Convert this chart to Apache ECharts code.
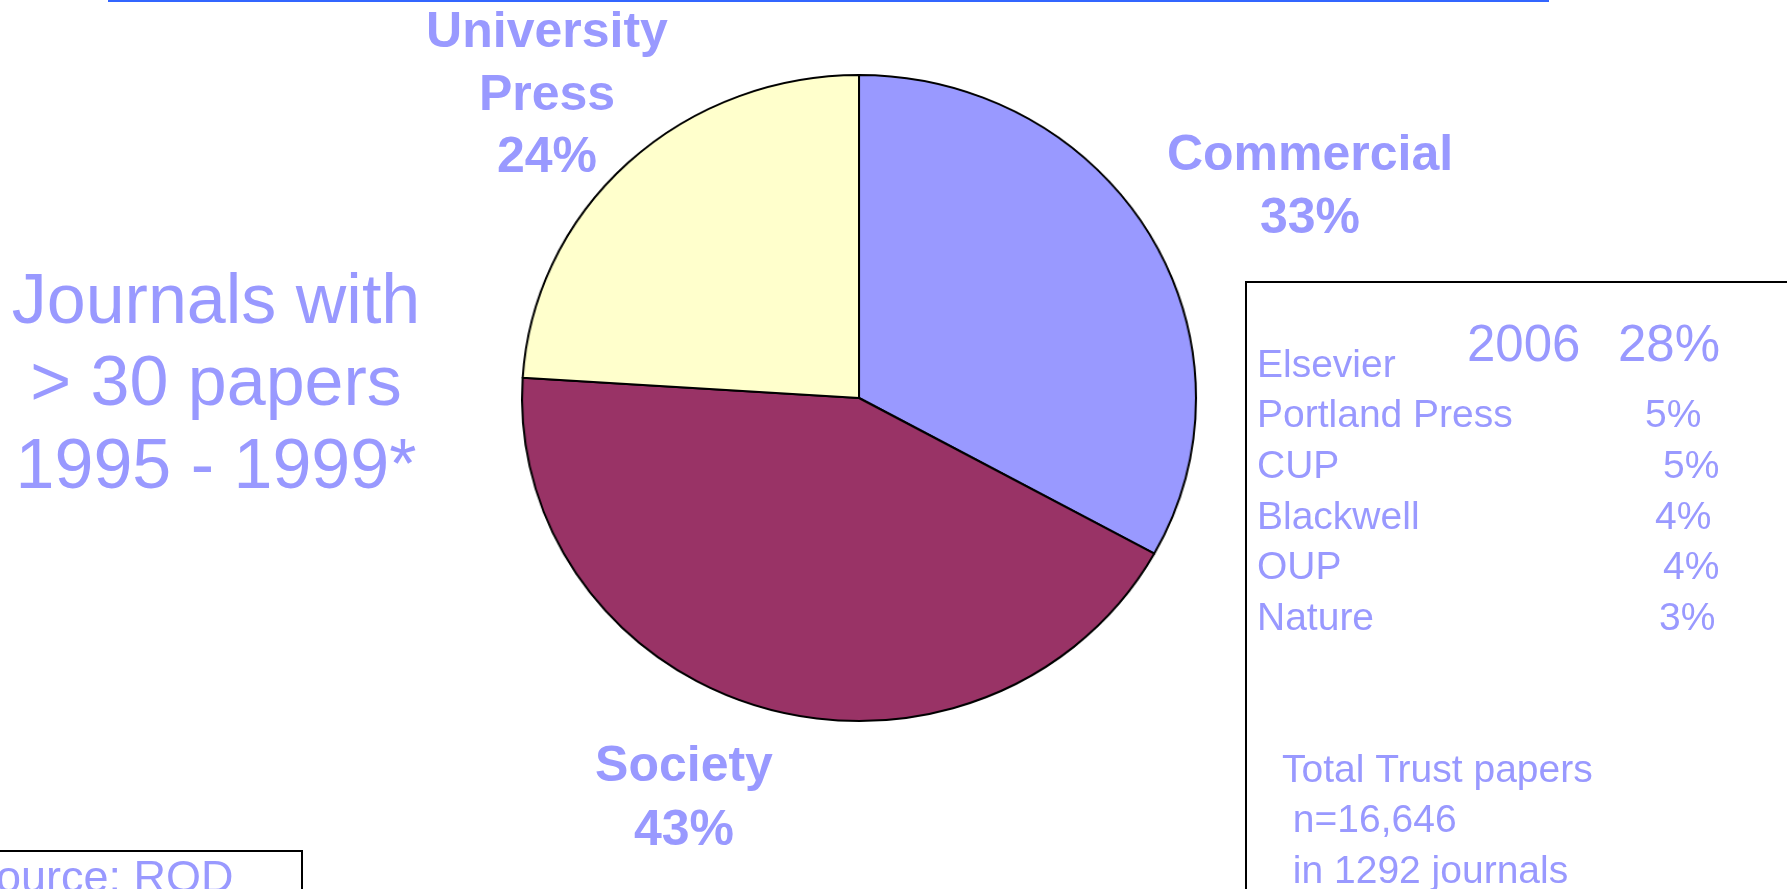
<!DOCTYPE html>
<html>
<head>
<meta charset="utf-8">
<script src="https://cdn.jsdelivr.net/npm/echarts@6/dist/echarts.min.js"></script>
<style>
  html, body { margin: 0; padding: 0; background: #ffffff; overflow: hidden; }
  #wrap { position: relative; width: 1787px; height: 889px; }
  #pie { position: absolute; left: 0; top: 0; width: 1787px; height: 889px;
         transform: scaleX(1.0433); transform-origin: 859px 398px; }
  #over { position: absolute; left: 0; top: 0; width: 1787px; height: 889px; pointer-events: none; }
</style>
</head>
<body>
<div id="wrap">
  <div id="pie"></div>
  <div id="over"></div>
</div>
<script>
// ---- data ----
var categories = ['Commercial', 'Society', 'University Press'];
var categoryLabels = ['Commercial', 'Society', 'University\nPress'];
var shares = [33, 43, 24];
var sliceColors = ['#9999FF', '#993366', '#FFFFCC'];

var titleLines = ['Journals with', '> 30 papers', '1995 - 1999*'];

var publishers = ['Elsevier', 'Portland Press', 'CUP', 'Blackwell', 'OUP', 'Nature'];
var publisherShares = ['28%', '5%', '5%', '4%', '4%', '3%'];
var yearLabel = '2006';

var totalLines = ['Total Trust papers', ' n=16,646', ' in 1292 journals'];
var sourceText = 'Source: ROD';

// ---- layout / style ----
var TXT = '#9999FF';
var FONT = "'Liberation Sans', Arial, sans-serif";

// pie (drawn in its own layer, stretched slightly horizontally like the original ellipse)
var pieChart = echarts.init(document.getElementById('pie'), null, { renderer: 'canvas' });
pieChart.setOption({
  animation: false,
  series: [{
    type: 'pie',
    center: [859, 398],
    radius: [0, 323],
    startAngle: 90,
    clockwise: true,
    label: { show: false },
    labelLine: { show: false },
    itemStyle: { borderColor: '#000000', borderWidth: 2 },
    emphasis: { disabled: true },
    data: categories.map(function (c, i) {
      return { name: c, value: shares[i], itemStyle: { color: sliceColors[i] } };
    })
  }]
});

// overlay with all text
var labelPos = [
  { x: 1310, ys: [156, 219] },
  { x: 684, ys: [767, 831] },
  { x: 547, ys: [33, 96, 158] }
];
var g = [];

// top rule
g.push({ type: 'line', shape: { x1: 108, y1: 1, x2: 1549, y2: 1 },
         style: { stroke: '#3366FF', lineWidth: 2 } });

// slice labels
categories.forEach(function (c, i) {
  var lines = categoryLabels[i].split('\n').concat([shares[i] + '%']);
  lines.forEach(function (t, j) {
    g.push({ type: 'text', x: labelPos[i].x, y: labelPos[i].ys[j],
      style: { text: t, fill: TXT, font: 'bold 50px ' + FONT, align: 'center', verticalAlign: 'middle' } });
  });
});

// left title
var titleYs = [304, 386, 469];
titleLines.forEach(function (t, j) {
  g.push({ type: 'text', x: 216, y: titleYs[j],
    style: { text: t, fill: TXT, font: '70px ' + FONT, align: 'center', verticalAlign: 'middle' } });
});

// right box
g.push({ type: 'rect', shape: { x: 1246, y: 282, width: 700, height: 700 },
         style: { fill: 'none', stroke: '#000000', lineWidth: 2 } });
var pubYs = [366, 416, 467, 518, 568, 619];
var pctX = [1618, 1645, 1663, 1655, 1663, 1659];
publishers.forEach(function (p, i) {
  g.push({ type: 'text', x: 1257, y: pubYs[i],
    style: { text: p, fill: TXT, font: '39px ' + FONT, align: 'left', verticalAlign: 'middle' } });
  if (i === 0) {
    g.push({ type: 'text', x: 1467, y: 347,
      style: { text: yearLabel, fill: TXT, font: '51px ' + FONT, align: 'left', verticalAlign: 'middle' } });
    g.push({ type: 'text', x: pctX[i], y: 347,
      style: { text: publisherShares[i], fill: TXT, font: '51px ' + FONT, align: 'left', verticalAlign: 'middle' } });
  } else {
    g.push({ type: 'text', x: pctX[i], y: pubYs[i],
      style: { text: publisherShares[i], fill: TXT, font: '39px ' + FONT, align: 'left', verticalAlign: 'middle' } });
  }
});
var totYs = [771, 821, 872];
totalLines.forEach(function (t, j) {
  g.push({ type: 'text', x: 1282, y: totYs[j],
    style: { text: t, fill: TXT, font: '39px ' + FONT, align: 'left', verticalAlign: 'middle' } });
});

// source box
g.push({ type: 'rect', shape: { x: -10, y: 851, width: 312, height: 100 },
         style: { fill: 'none', stroke: '#000000', lineWidth: 2 } });
g.push({ type: 'text', x: -34, y: 880,
  style: { text: sourceText, fill: TXT, font: '45px ' + FONT, align: 'left', verticalAlign: 'middle' } });

var overChart = echarts.init(document.getElementById('over'), null, { renderer: 'canvas' });
overChart.setOption({ animation: false, backgroundColor: 'transparent', graphic: g });
</script>
</body>
</html>
